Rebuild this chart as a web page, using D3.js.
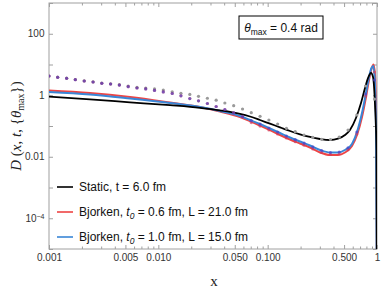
<!DOCTYPE html>
<html><head><meta charset="utf-8">
<script src="https://cdn.jsdelivr.net/npm/d3@7"></script>
<style>body{margin:0;background:#fff}svg{display:block}</style>
</head><body><svg id="c" width="382" height="290"></svg>
<script>
// ---- data ----
const staticX = [0.001,0.00237,0.00551,0.01277,0.02403,0.03662,0.0558,0.06888,0.08505,0.105,0.1297,0.1601,0.1976,0.2439,0.3012,0.3717,0.4397,0.5093,0.5658,0.6423,0.7139,0.7767,0.8275,0.8816,0.9194,0.959,0.9895,0.9995];
const staticD = [0.897,0.738,0.590,0.475,0.391,0.324,0.249,0.2037,0.1567,0.1188,0.0907,0.0688,0.0537,0.0439,0.0378,0.0350,0.0386,0.0510,0.0741,0.182,0.560,1.721,3.64,5.29,3.92,0.482,0.01658,1e-7];

const bj06X = [0.001,0.00237,0.00551,0.01277,0.02403,0.03662,0.0558,0.06888,0.08505,0.105,0.1297,0.1601,0.1976,0.2439,0.3012,0.3717,0.4397,0.5093,0.5902,0.6561,0.7291,0.7933,0.8452,0.8909,0.929,0.959,0.9795,0.9937,0.9995];
const bj06D = [1.427,1.184,0.877,0.581,0.415,0.296,0.196,0.1454,0.1038,0.0741,0.0510,0.0364,0.0270,0.0200,0.01374,0.0114,0.0114,0.01374,0.02237,0.0510,0.196,0.877,3.13,7.14,10.0,4.56,0.331,0.00784,1e-7];

const bj10X = [0.001,0.00237,0.00551,0.01277,0.02403,0.03662,0.0558,0.06888,0.08505,0.105,0.1297,0.1601,0.1976,0.2439,0.3012,0.3717,0.4397,0.5093,0.5902,0.6561,0.7291,0.7933,0.8452,0.8909,0.9252,0.959,0.9795,0.9995];
const bj10D = [1.276,1.058,0.784,0.560,0.415,0.3075,0.2114,0.1567,0.1161,0.0829,0.0592,0.0423,0.0313,0.0232,0.01658,0.01374,0.01374,0.01658,0.0260,0.0638,0.2647,1.184,3.92,7.69,8.94,2.154,0.0741,1e-7];

const dotX = [0.00100,0.00120,0.00145,0.00174,0.00210,0.00253,0.00304,0.00366,0.00440,0.00530,0.00638,0.00767,0.00923,0.0111,0.0134,0.0161,0.0194,0.0233,0.0281,0.0338,0.0406,0.0489,0.0589,0.0708,0.0852,0.1026,0.1234,0.1485,0.1788,0.2151,0.2589,0.3116,0.3750,0.4513,0.5432,0.6537,0.7867,0.9469];
const dotStatic = [4.23,3.86,3.58,3.25,2.95,2.74,2.50,2.36,2.20,2.00,1.81,1.72,1.60,1.48,1.30,1.16,1.06,0.92,0.80,0.69,0.56,0.457,0.357,0.271,0.207,0.157,0.116,0.0842,0.0653,0.0510,0.0429,0.0369,0.0364,0.0439,0.0741,0.228,2.0,0.75];
const dotBj06 = [4.23,3.84,3.56,3.20,2.91,2.70,2.45,2.32,2.15,1.90,1.72,1.60,1.43,1.28,1.14,0.96,0.78,0.66,0.54,0.43,0.344,0.269,0.201,0.129,0.0993,0.0741,0.0549,0.0407,0.0308,0.0238,0.0180,0.01375,0.01183,0.01229,0.01683,0.0549,0.945,5.7];
const dotBj10 = [4.23,3.84,3.56,3.20,2.91,2.70,2.45,2.32,2.15,1.90,1.72,1.60,1.43,1.28,1.14,0.96,0.78,0.66,0.54,0.43,0.344,0.269,0.201,0.1498,0.1153,0.0861,0.0638,0.0473,0.0358,0.0276,0.0209,0.01597,0.01374,0.01427,0.01955,0.0638,1.098,3.13];

const xMajor = [0.001,0.005,0.01,0.05,0.1,0.5,1];
const xMajorLabels = ["0.001","0.005","0.010","0.050","0.100","0.500","1"];
const xMinor = [0.002,0.003,0.004,0.006,0.007,0.008,0.009,0.02,0.03,0.04,0.06,0.07,0.08,0.09,0.2,0.3,0.4,0.6,0.7,0.8,0.9];
const yTicks = [1e-5,1e-4,1e-3,1e-2,1e-1,1,10,100,1000];
const yLabelled = [1e-4,1e-2,1,100];
const yLabels = ["10^-4","0.01","1","100"];

const legendLabels = ["Static, t = 6.0 fm","Bjorken, t0 = 0.6 fm, L = 21.0 fm","Bjorken, t0 = 1.0 fm, L = 15.0 fm"];
const colors = {black:"#000000", red:"#ee4444", blue:"#3a86d6", gray:"#9a9a9a", dRed:"#d03a5a", dBlue:"#4b3cc4"};

// ---- chart ----
const svg = d3.select("#c");
const L=49,R=377,T=3,B=249;
const x = d3.scaleLog().domain([0.001,1]).range([L,R]);
const y = d3.scaleLog().domain([1e-5,1e3]).range([B,T]);

svg.append("defs").append("clipPath").attr("id","clip")
  .append("rect").attr("x",L).attr("y",T).attr("width",R-L).attr("height",B-T);

const frameCol = "#a0a0a0";
function styleAxis(g){
  g.select(".domain").remove();
  g.selectAll(".tick line").attr("stroke",frameCol);
  g.selectAll(".tick text").attr("fill","#333").style("font-family","'Liberation Sans',Arial,sans-serif").style("font-size","10px");
}
// bottom
svg.append("g").attr("transform",`translate(0,${B})`)
  .call(d3.axisBottom(x).tickValues(xMajor).tickFormat((d,i)=>xMajorLabels[i]).tickSizeInner(-4).tickSizeOuter(0).tickPadding(4.5)).call(styleAxis);
svg.append("g").attr("transform",`translate(0,${B})`)
  .call(d3.axisBottom(x).tickValues(xMinor).tickFormat("").tickSizeInner(-2.5).tickSizeOuter(0)).call(styleAxis);
// top
svg.append("g").attr("transform",`translate(0,${T})`)
  .call(d3.axisTop(x).tickValues(xMajor).tickFormat("").tickSizeInner(-4).tickSizeOuter(0)).call(styleAxis);
svg.append("g").attr("transform",`translate(0,${T})`)
  .call(d3.axisTop(x).tickValues(xMinor).tickFormat("").tickSizeInner(-2.5).tickSizeOuter(0)).call(styleAxis);
// left
const yl = svg.append("g").attr("transform",`translate(${L},0)`)
  .call(d3.axisLeft(y).tickValues(yTicks).tickFormat(d=>{const i=yLabelled.indexOf(d);return i<0?"":yLabels[i];}).tickSizeInner(-4).tickSizeOuter(0).tickPadding(4.5)).call(styleAxis);
yl.selectAll(".tick text").each(function(d){
  const t=d3.select(this);
  if(t.text().startsWith("10^")){
    const e=t.text().slice(3).replace("-","\u2212");
    t.text("10");
    t.append("tspan").attr("dy","-0.45em").style("font-size","7px").text(e);
  }
});
// right
svg.append("g").attr("transform",`translate(${R},0)`)
  .call(d3.axisRight(y).tickValues(yTicks).tickFormat("").tickSizeInner(-4).tickSizeOuter(0)).call(styleAxis);
// frame
svg.append("rect").attr("x",L).attr("y",T).attr("width",R-L).attr("height",B-T)
  .attr("fill","none").attr("stroke",frameCol).attr("stroke-width",1);

// lines
const plot = svg.append("g").attr("clip-path","url(#clip)");
const line = d3.line().x(d=>x(d[0])).y(d=>y(d[1])).curve(d3.curveMonotoneX);
function addLine(xs,ds,col,w){
  plot.append("path").datum(xs.map((v,i)=>[v,ds[i]])).attr("d",line)
    .attr("fill","none").attr("stroke",col).attr("stroke-width",w).attr("stroke-linejoin","round");
}
addLine(bj06X,bj06D,colors.red,2);
addLine(bj10X,bj10D,colors.blue,2);
addLine(staticX,staticD,colors.black,1.8);

function addDots(ds,col,op){
  plot.append("g").selectAll("circle").data(dotX.map((v,i)=>[v,ds[i]])).join("circle")
    .attr("cx",d=>x(d[0])).attr("cy",d=>y(d[1])).attr("r",1.6)
    .attr("fill",col).attr("fill-opacity",op);
}
addDots(dotStatic,colors.gray,1);
addDots(dotBj06,colors.dRed,0.65);
addDots(dotBj10,colors.dBlue,0.65);

// legend
const lg = svg.append("g").style("font-family","'Liberation Sans',Arial,sans-serif").style("font-size","12px");
const lgCols=[colors.black,colors.red,colors.blue];
legendLabels.forEach((s,i)=>{
  const yy=187+25*i;
  lg.append("line").attr("x1",57).attr("x2",73).attr("y1",yy).attr("y2",yy).attr("stroke",lgCols[i]).attr("stroke-width",1.6);
  const t=lg.append("text").attr("x",79).attr("y",yy+4.2).attr("fill","#111");
  if(i===0){ t.text(s); }
  else{
    const parts=s.split("t0");
    t.append("tspan").text(parts[0]);
    t.append("tspan").style("font-style","italic").text("t");
    t.append("tspan").attr("dy",3).style("font-size","8.5px").style("font-style","italic").text("0");
    t.append("tspan").attr("dy",-3).text(parts[1]);
  }
});

// annotation box
svg.append("rect").attr("x",239).attr("y",16).attr("width",84).attr("height",23).attr("fill","#fff").attr("stroke","#000").attr("stroke-width",1);
const at = svg.append("text").attr("x",281).attr("y",32).attr("text-anchor","middle")
  .style("font-family","'Liberation Sans',Arial,sans-serif").style("font-size","12px").attr("fill","#111");
at.append("tspan").style("font-style","italic").text("\u03b8");
at.append("tspan").attr("dy",3).style("font-size","8.5px").text("max");
at.append("tspan").attr("dy",-3).text(" = 0.4 rad");

// axis titles
svg.append("text").attr("x",214).attr("y",286).attr("text-anchor","middle")
  .style("font-family","'Liberation Serif','Times New Roman',serif").style("font-size","15px").attr("fill","#222").text("x");
const yt = svg.append("text").attr("transform","translate(21,126) rotate(-90)").attr("text-anchor","middle")
  .style("font-family","'Liberation Serif','Times New Roman',serif").style("font-size","15px").attr("fill","#222");
yt.append("tspan").style("font-style","italic").text("D");
yt.append("tspan").text(" (");
yt.append("tspan").style("font-style","italic").text("x");
yt.append("tspan").text(", ");
yt.append("tspan").style("font-style","italic").text("t");
yt.append("tspan").text(", {");
yt.append("tspan").style("font-style","italic").text("\u03b8");
yt.append("tspan").attr("dy",3).style("font-size","10px").text("max");
yt.append("tspan").attr("dy",-3).text("})");
</script></body></html>
